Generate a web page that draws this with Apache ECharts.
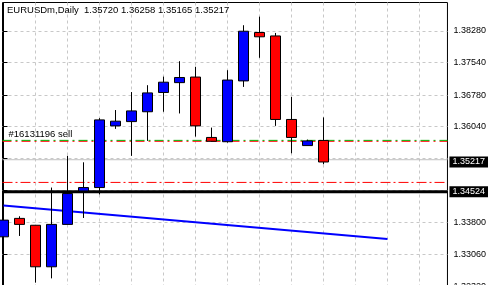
<!DOCTYPE html>
<html><head><meta charset="utf-8">
<script src="https://cdn.jsdelivr.net/npm/echarts@6/dist/echarts.min.js"></script>
<style>html,body{margin:0;padding:0;background:#fff;overflow:hidden;width:489px;height:285px}#c{width:489px;height:305px}</style>
</head><body><div id="c"></div>
<script>
// ---- data ----
const symbolTitle = 'EURUSDm,Daily';
const lastOHLC = ['1.35720', '1.36258', '1.35165', '1.35217'];
const dayIndex = [0, 1, 2, 3, 4, 5, 6, 7, 8, 9, 10, 11, 12, 13, 14, 15, 16, 17, 18, 19, 20];
const opens  = [1.3347, 1.3390, 1.3374, 1.3277, 1.3376, 1.3454, 1.3462, 1.3606, 1.3616, 1.3639, 1.3684, 1.3707, 1.3720, 1.3579, 1.3569, 1.3711, 1.3824, 1.3816, 1.3621, 1.3560, 1.35720];
const closes = [1.3386, 1.3376, 1.3277, 1.3376, 1.3448, 1.3462, 1.3620, 1.3617, 1.3641, 1.3683, 1.3708, 1.3719, 1.3606, 1.3570, 1.3713, 1.3827, 1.3814, 1.3621, 1.3579, 1.3571, 1.35217];
const lows   = [1.3310, 1.3349, 1.3240, 1.3250, 1.3376, 1.3391, 1.3446, 1.3599, 1.3536, 1.3571, 1.3639, 1.3635, 1.3581, 1.3569, 1.3567, 1.3697, 1.3765, 1.3606, 1.3542, 1.3560, 1.35165];
const highs  = [1.3392, 1.3395, 1.3374, 1.3462, 1.3536, 1.3521, 1.3624, 1.3643, 1.3685, 1.3701, 1.3721, 1.3757, 1.3744, 1.3602, 1.3736, 1.3841, 1.3861, 1.3823, 1.3674, 1.3574, 1.36258];
const trendDays = [0, 24];
const trendValues = [1.34199, 1.33417];
const yTickValues = [1.3232, 1.3306, 1.3380, 1.3456, 1.3530, 1.3604, 1.3678, 1.3754, 1.3828];
const yLabelValues = [1.3232, 1.3306, 1.3380, 1.3604, 1.3678, 1.3754, 1.3828];
const xGridDays = [0, 2, 4, 6, 8, 10, 12, 14, 16, 18, 20, 22, 24, 26];
const orderLabel = '#16131196 sell';
const orderPrice = 1.35722;
const orderShadow = 1.35700;
const redLevel = 1.3474;
const supportLevel = 1.34524;
const bidPrice = 1.35217;
const bidLineLevel = 1.3527;

// ---- chart ----
const X_MIN = -0.0625, X_MAX = 27.75;
const F = '"Liberation Sans", Arial, sans-serif';
const chart = echarts.init(document.getElementById('c'), null, {renderer: 'canvas'});
const boxLabel = v => ({
  show: true, distance: 2,
  formatter: () => v.toFixed(5),
  backgroundColor: '#000', color: '#fff', fontFamily: F, fontSize: 9,
  lineHeight: 9, padding: [1, 3, 1, 3]
});
function level(v, lineStyle, z, extra) {
  return Object.assign({
    type: 'line', z: z, silent: true, symbol: 'none', clip: false,
    data: [[X_MIN, v], [X_MAX, v]],
    lineStyle: lineStyle
  }, extra || {});
}
chart.setOption({
  animation: false,
  backgroundColor: '#fff',
  title: {
    text: symbolTitle + '  ' + lastOHLC.join(' '),
    left: 7, top: 5, padding: 0,
    textStyle: {fontFamily: F, fontSize: 9.5, fontWeight: 'normal', color: '#000'}
  },
  grid: {left: 2.5, top: 2.5, right: 41.5, bottom: 0, show: true, borderColor: '#000', borderWidth: 1, backgroundColor: '#fff'},
  xAxis: {
    type: 'value', min: X_MIN, max: X_MAX,
    axisLine: {show: false}, axisLabel: {show: false},
    axisTick: {show: false, customValues: xGridDays},
    splitLine: {show: true, lineStyle: {color: '#c8c8c8', type: [3, 3], width: 1}}
  },
  yAxis: {
    type: 'value', position: 'right', min: 1.31878, max: 1.389408,
    axisLine: {show: true, lineStyle: {color: '#000', width: 1}},
    axisTick: {show: true, length: 4, customValues: yTickValues, lineStyle: {color: '#000'}},
    axisLabel: {customValues: yLabelValues, formatter: v => v.toFixed(5), color: '#000', fontFamily: F, fontSize: 9, margin: 6},
    splitLine: {show: true, lineStyle: {color: '#c8c8c8', type: [3, 3], width: 1}}
  },
  series: [
    level(bidLineLevel, {color: '#c0c0c0', width: 1, type: 'solid'}, 1),
    level(redLevel, {color: '#ff0000', width: 1, type: [10, 3, 2, 3]}, 2),
    level(orderShadow, {color: '#ff0000', width: 1, type: [9, 4, 2, 4]}, 2),
    level(orderPrice, {color: '#00b000', width: 1, type: [9, 4, 2, 4]}, 2, {
      symbol: 'circle', symbolSize: 0.1, showSymbol: true,
      label: {show: true, position: 'top', align: 'left', offset: [6, 4], formatter: p => p.dataIndex === 0 ? orderLabel : '',
        color: '#000', fontFamily: F, fontSize: 9.5}
    }),
    level(supportLevel, {color: '#000', width: 3, type: 'solid'}, 3, {endLabel: boxLabel(supportLevel)}),
    level(bidPrice, {color: 'rgba(0,0,0,0)', width: 0}, 3, {endLabel: boxLabel(bidPrice)}),
    {
      type: 'line', z: 3, silent: true,
      data: trendDays.map((d, i) => [d, trendValues[i]]),
      symbol: 'none', lineStyle: {color: '#0000ff', width: 2}
    },
    {
      type: 'candlestick', z: 5, barWidth: 10, silent: true, clip: true,
      data: dayIndex.map(i => [i, opens[i], closes[i], lows[i], highs[i]]),
      itemStyle: {color: '#0000ff', color0: '#ff0000', borderColor: '#000', borderColor0: '#000', borderWidth: 1}
    }
  ]
});
</script></body></html>
